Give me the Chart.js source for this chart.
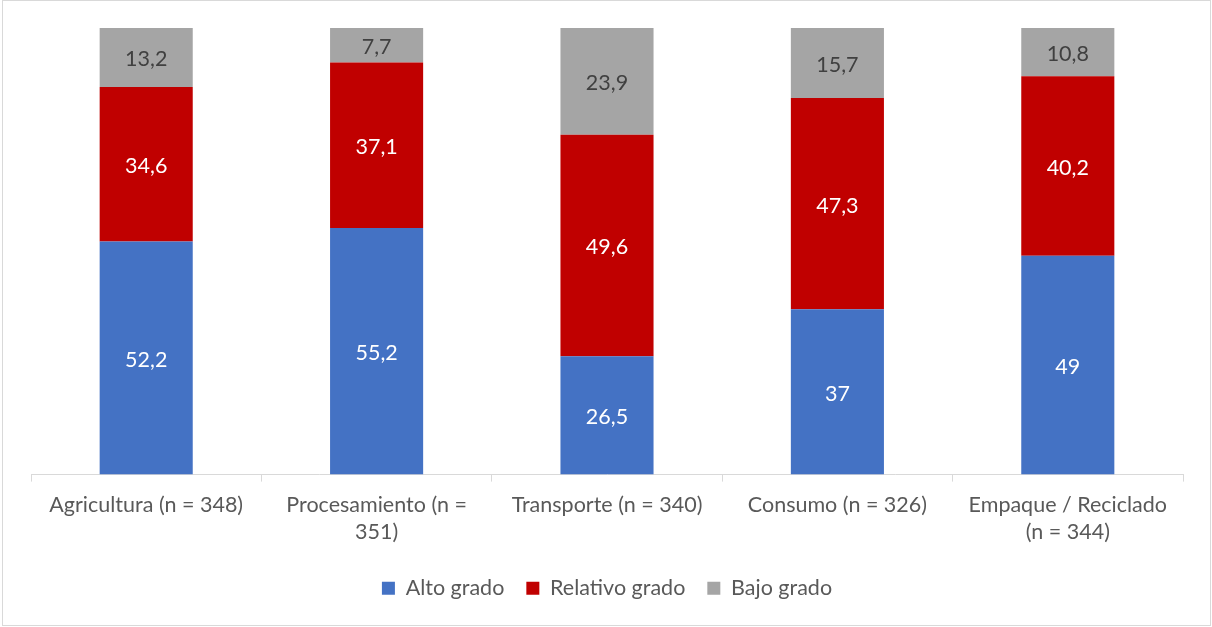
<!DOCTYPE html>
<html>
<head>
<meta charset="utf-8">
<script src="https://cdn.jsdelivr.net/npm/chart.js@4"></script>
<style>
  html, body { margin: 0; padding: 0; background: #fff; }
  #wrap { position: absolute; left: 0; top: 0; width: 1212px; height: 627px; }
  #frame { position: absolute; left: 2px; top: 0; width: 1209px; height: 626px;
           box-sizing: border-box; border: 1px solid #d9d9d9; pointer-events: none; }
</style>
</head>
<body>
<div id="wrap">
  <canvas id="chart" width="1212" height="627"></canvas>
  <div id="frame"></div>
</div>
<script>
// categories (multi-line as in the original)
const categories = [
    'Agricultura (n = 348)',
    ['Procesamiento (n =', '351)'],
    'Transporte (n = 340)',
    'Consumo (n = 326)',
    ['Empaque / Reciclado', '(n = 344)']
];
const altoGrado     = [52.2, 55.2, 26.5, 37, 49];
const relativoGrado = [34.6, 37.1, 49.6, 47.3, 40.2];
const bajoGrado     = [13.2, 7.7, 23.9, 15.7, 10.8];

const FONT = 'Lato, "Open Sans", sans-serif';

// draws the value inside each segment
const segmentLabels = {
    id: 'segmentLabels',
    afterDatasetsDraw(chart) {
        const ctx = chart.ctx;
        ctx.save();
        ctx.font = '21.5px ' + FONT;
        ctx.textAlign = 'center';
        ctx.textBaseline = 'middle';
        chart.data.datasets.forEach((ds, i) => {
            const meta = chart.getDatasetMeta(i);
            meta.data.forEach((bar, j) => {
                const v = ds.data[j];
                ctx.fillStyle = ds.labelColor;
                const y = (bar.y + bar.base) / 2;
                ctx.fillText(String(v).replace('.', ','), bar.x, y + 2);
            });
        });
        ctx.restore();
    }
};

new Chart(document.getElementById('chart'), {
    type: 'bar',
    data: {
        labels: categories,
        datasets: [
            { label: 'Alto grado', data: altoGrado, backgroundColor: '#4472C4', labelColor: '#ffffff' },
            { label: 'Relativo grado', data: relativoGrado, backgroundColor: '#C00000', labelColor: '#ffffff' },
            { label: 'Bajo grado', data: bajoGrado, backgroundColor: '#A5A5A5', labelColor: '#404040' }
        ]
    },
    options: {
        responsive: false,
        animation: false,
        barPercentage: 0.404,
        categoryPercentage: 1,
        layout: { padding: { left: 31, right: 29, top: 28, bottom: 18 } },
        scales: {
            x: {
                stacked: true,
                grid: { offset: true, drawOnChartArea: false, drawTicks: true, tickLength: 7, color: '#d9d9d9' },
                border: { color: '#d9d9d9' },
                ticks: { color: '#595959', font: { family: FONT, size: 21.5, lineHeight: 1.3 }, padding: 9, maxRotation: 0, autoSkip: false }
            },
            y: {
                stacked: true, min: 0, max: 100, display: false
            }
        },
        plugins: {
            legend: {
                position: 'bottom',
                labels: { color: '#595959', font: { family: FONT, size: 21.5 }, boxWidth: 13, boxHeight: 13, padding: 22 }
            },
            tooltip: { enabled: false }
        }
    },
    plugins: [segmentLabels]
});
</script>
</body>
</html>
